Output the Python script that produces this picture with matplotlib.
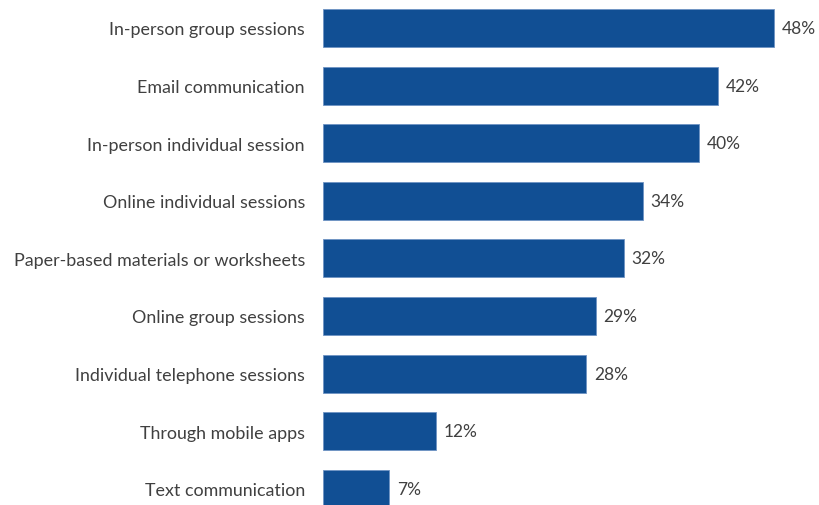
import matplotlib
matplotlib.use("Agg")
import matplotlib.pyplot as plt

categories = ["In-person group sessions", "Email communication", "In-person individual session",
              "Online individual sessions", "Paper-based materials or worksheets", "Online group sessions",
              "Individual telephone sessions", "Through mobile apps", "Text communication"]
values = [48, 42, 40, 34, 32, 29, 28, 12, 7]

plt.rcParams['font.family'] = ['Lato', 'DejaVu Sans']
W, H = 819, 506
fig = plt.figure(figsize=(W/100, H/100), dpi=100)
ax = fig.add_axes([323/W, 0, 1 - 323/W, 1])
pitch = 57.6
c0 = 29
ax.set_ylim((H - c0)/pitch, -c0/pitch)
ax.set_xlim(0, (W - 323)/9.4)
ypos = list(range(len(categories)))
ax.barh(ypos, values, height=0.66, color="#114F94", edgecolor="#6E93C4", linewidth=0.6)
for y, v in zip(ypos, values):
    ax.text(v + 0.85, y, f"{v}%", va="center", ha="left", fontsize=12.5, color="#404040")
ax.set_yticks(ypos)
ax.set_yticklabels(categories, fontsize=12.9, color="#404040")
ax.tick_params(axis="y", length=0, pad=13)
ax.set_xticks([])
for s in ax.spines.values():
    s.set_visible(False)
fig.savefig("out.png", dpi=100)
